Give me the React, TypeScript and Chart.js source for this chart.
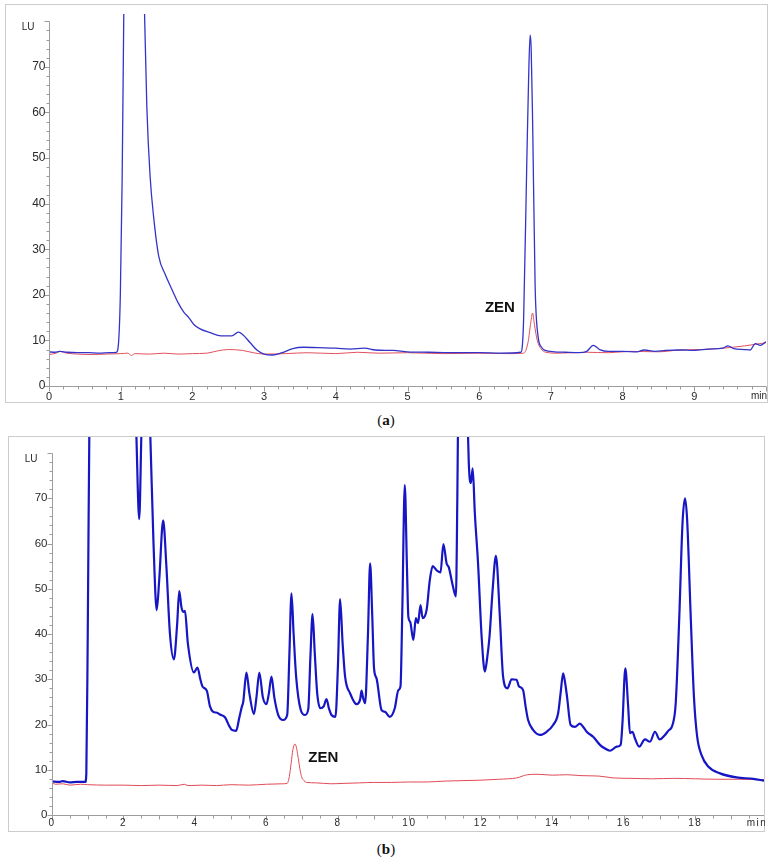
import React, { useEffect, useRef } from 'react';
import { Chart, registerables } from 'chart.js';
Chart.register(...registerables);

// ---------- Panel (a) ----------
const aBlueTime = [0, 0.08, 0.15, 0.25, 0.4, 0.55, 0.7, 0.85, 0.94, 0.97, 0.995, 1.02, 1.045, 1.08, 1.18, 1.27, 1.31, 1.335, 1.365, 1.41, 1.46, 1.53, 1.62, 1.72, 1.8, 1.88, 1.95, 2.02, 2.1, 2.25, 2.4, 2.55, 2.64, 2.7, 2.8, 2.9, 3.0, 3.12, 3.25, 3.4, 3.55, 3.75, 4.0, 4.2, 4.4, 4.55, 4.8, 5.0, 5.3, 5.6, 6.0, 6.3, 6.58, 6.6, 6.62, 6.665, 6.69, 6.71, 6.725, 6.745, 6.78, 6.82, 6.87, 6.92, 7.05, 7.2, 7.4, 7.5, 7.59, 7.68, 7.8, 8.0, 8.2, 8.3, 8.45, 8.6, 8.8, 9.0, 9.2, 9.4, 9.47, 9.55, 9.7, 9.78, 9.85, 9.92, 10.0];
const aBlueLU = [7.5, 7.4, 7.6, 7.4, 7.3, 7.3, 7.2, 7.3, 7.4, 9.5, 20, 45, 85, 130, 160, 140, 100, 80, 61, 46, 37, 28.5, 24.5, 21, 18.3, 16.2, 15, 13.5, 12.6, 11.7, 11, 11, 11.8, 11.3, 9.6, 7.9, 7.0, 6.8, 7.3, 8.2, 8.5, 8.4, 8.3, 8.1, 8.3, 7.9, 7.8, 7.5, 7.4, 7.3, 7.3, 7.2, 7.4, 8.5, 15, 50, 68, 77, 74, 58, 22, 11, 8.5, 7.8, 7.5, 7.4, 7.3, 7.6, 8.9, 8.0, 7.6, 7.6, 7.5, 7.9, 7.6, 7.8, 7.9, 7.8, 8.1, 8.3, 8.8, 8.2, 8.0, 7.9, 9.3, 8.9, 9.7];
const aRedTime = [0, 0.1, 0.15, 0.25, 0.4, 0.6, 0.8, 1.0, 1.1, 1.15, 1.2, 1.4, 1.6, 1.8, 2.0, 2.2, 2.35, 2.5, 2.7, 2.85, 3.0, 3.3, 3.6, 4.0, 4.3, 4.6, 5.0, 5.5, 6.0, 6.4, 6.62, 6.68, 6.72, 6.745, 6.77, 6.81, 6.86, 6.93, 7.1, 7.5, 7.8, 8.1, 8.5, 8.8, 9.1, 9.4, 9.7, 10.0];
const aRedLU = [6.9, 7.2, 7.6, 7.2, 7.0, 6.9, 7.0, 7.1, 7.2, 6.7, 7.1, 7.0, 7.2, 7.0, 7.1, 7.2, 7.7, 8.0, 7.8, 7.3, 7.0, 7.1, 7.3, 7.1, 7.4, 7.2, 7.3, 7.1, 7.2, 7.1, 7.2, 9.5, 14, 16, 13.5, 10, 8.2, 7.4, 7.2, 7.4, 7.3, 7.6, 7.5, 7.9, 8.0, 8.3, 8.8, 9.5];
const aXLabels = [0, 1, 2, 3, 4, 5, 6, 7, 8, 9];
const aYLabels = [0, 10, 20, 30, 40, 50, 60, 70];

// ---------- Panel (b) ----------
const bBlueTime = [0, 0.2, 0.3, 0.5, 0.7, 0.93, 0.96, 1.0, 1.05, 1.3, 2.0, 2.3, 2.36, 2.44, 2.5, 2.58, 2.68, 2.75, 2.84, 2.93, 3.0, 3.11, 3.2, 3.3, 3.41, 3.5, 3.56, 3.62, 3.67, 3.72, 3.8, 3.97, 4.07, 4.15, 4.21, 4.33, 4.42, 4.51, 4.62, 4.7, 4.84, 4.95, 5.03, 5.15, 5.24, 5.31, 5.35, 5.44, 5.52, 5.65, 5.72, 5.8, 5.9, 6.0, 6.07, 6.14, 6.22, 6.33, 6.47, 6.58, 6.64, 6.7, 6.76, 6.83, 6.96, 7.08, 7.17, 7.23, 7.29, 7.35, 7.42, 7.51, 7.6, 7.68, 7.75, 7.82, 7.93, 8.0, 8.06, 8.13, 8.2, 8.34, 8.52, 8.62, 8.66, 8.7, 8.76, 8.84, 8.9, 8.96, 9.01, 9.08, 9.22, 9.32, 9.45, 9.59, 9.69, 9.75, 9.8, 9.87, 9.93, 9.97, 10.02, 10.11, 10.18, 10.24, 10.31, 10.37, 10.48, 10.57, 10.65, 10.76, 10.87, 10.95, 11.04, 11.1, 11.21, 11.3, 11.34, 11.37, 11.5, 11.6, 11.66, 11.69, 11.72, 11.77, 11.83, 11.92, 12.02, 12.11, 12.18, 12.24, 12.33, 12.42, 12.53, 12.62, 12.74, 12.86, 13.0, 13.06, 13.18, 13.25, 13.32, 13.46, 13.65, 13.84, 14.02, 14.16, 14.23, 14.3, 14.36, 14.41, 14.51, 14.63, 14.77, 14.87, 14.96, 15.14, 15.33, 15.45, 15.61, 15.8, 15.91, 15.96, 16.04, 16.12, 16.17, 16.24, 16.31, 16.43, 16.59, 16.73, 16.87, 17.0, 17.15, 17.24, 17.36, 17.45, 17.55, 17.64, 17.71, 17.77, 17.87, 17.96, 18.05, 18.17, 18.36, 18.69, 19.15, 19.62, 19.92];
const bBlueLU = [7.4, 7.3, 7.5, 7.2, 7.3, 7.3, 9, 40, 90, 150, 150, 100, 84, 65.4, 84, 110, 100, 84, 60, 45.3, 52, 65.1, 55, 40, 34.4, 42, 49.5, 46, 44.9, 45.1, 38, 31.5, 32.6, 30, 28.4, 27.5, 24, 22.8, 22.6, 22.2, 21.6, 19.8, 18.8, 18.6, 21.5, 23.9, 25, 31.5, 27, 22.3, 26, 31.5, 26, 24.5, 27, 30.6, 26, 22.1, 21.0, 22.1, 35, 49.0, 40, 30.6, 23.2, 22.1, 23.4, 35, 44.4, 36, 26.9, 23.6, 24, 25.6, 23.5, 22.1, 21.7, 33, 47.7, 38, 30.6, 26.9, 24.5, 25.5, 27.5, 26, 24.7, 40, 55.6, 44, 32.4, 30.2, 23.2, 22.8, 21.7, 23.6, 27.6, 28.4, 45, 72.9, 55, 43.8, 42.7, 38.7, 43.5, 42.4, 46.4, 43.5, 45.3, 51.9, 55.0, 54.1, 53.6, 59.9, 55.6, 54.8, 50.8, 48.3, 70, 95, 130, 95, 78, 74.1, 73.4, 76.6, 66.7, 55.6, 39.4, 31.7, 35, 39.4, 50, 57.3, 43.8, 30.6, 28.0, 30.0, 29.9, 28.5, 27.6, 24, 21.0, 18.8, 17.7, 18.4, 19.9, 22.5, 27, 31.3, 29, 26.1, 19.9, 19.5, 20.2, 19.4, 18.4, 17.3, 15.5, 14.8, 14.2, 15.1, 15.5, 20.3, 32.4, 23.9, 18.1, 18.4, 16.9, 15.1, 16.7, 16.2, 18.4, 16.7, 17.7, 18.6, 19.9, 24.7, 43.8, 64.5, 70.0, 65.2, 43.8, 26.1, 17.3, 13.3, 10.7, 9.2, 8.3, 8.0, 7.6];
const bRedTime = [0, 0.1, 0.3, 0.5, 0.8, 1.0, 1.5, 2.0, 2.5, 3.0, 3.5, 3.7, 3.8, 4.2, 4.6, 5.0, 5.5, 6.0, 6.45, 6.58, 6.64, 6.69, 6.74, 6.8, 6.85, 6.89, 6.94, 6.98, 7.05, 7.12, 7.4, 7.8, 8.2, 8.6, 9.0, 9.5, 10.0, 10.5, 11.0, 11.5, 12.0, 12.5, 13.0, 13.3, 13.6, 14.0, 14.4, 14.8, 15.3, 15.7, 16.2, 16.8, 17.4, 18.0, 18.6, 19.2, 19.92];
const bRedLU = [7.1, 6.8, 6.9, 6.6, 6.8, 6.7, 6.6, 6.6, 6.5, 6.6, 6.5, 6.8, 6.5, 6.6, 6.5, 6.7, 6.6, 6.8, 6.9, 7.0, 8.5, 11.4, 14.5, 15.7, 14.5, 12.5, 10, 8.5, 7.6, 7.2, 7.1, 6.9, 7.0, 7.1, 7.2, 7.2, 7.3, 7.3, 7.5, 7.6, 7.7, 7.9, 8.2, 8.9, 9.0, 8.8, 8.9, 8.7, 8.6, 8.2, 8.1, 8.0, 8.1, 8.0, 7.9, 7.9, 7.8];
const bXLabels = [0, 2, 4, 6, 8, 10, 12, 14, 16, 18];
const bYLabels = [0, 10, 20, 30, 40, 50, 60, 70];

const SANS = '"Liberation Sans", Arial, sans-serif';

function pts(t: number[], v: number[]) {
  return t.map((x, i) => ({ x, y: v[i] }));
}

type Cfg = {
  left: number; top: number; width: number; height: number;
  padding: { left: number; right: number; top: number; bottom: number };
  xMax: number; yMax: number; yAxisTop: number;
  blueT: number[]; blueV: number[]; redT: number[]; redV: number[];
  blueColor: string; blueWidth: number; redColor: string; redWidth: number;
  xLabels: number[]; yLabels: number[];
  xMinorStep: number; xMajorStep: number; yMinorStep: number;
  yLabelGap: number; xLabelOffset: number; xFont: string; yFont: string; xSpacing: string;
  zen: { x: number; y: number };
};

function axesPlugin(cfg: Cfg) {
  return {
    id: 'chromAxes',
    afterDraw(chart: any) {
      const { ctx, chartArea: ca, scales } = chart;
      const xs = scales.x, ys = scales.y;
      ctx.save();
      ctx.strokeStyle = '#cccccc';
      ctx.lineWidth = 1;
      ctx.strokeRect(0.5, 0.5, chart.width - 1, chart.height - 1);

      const ax = Math.round(xs.getPixelForValue(0)) + 0.5;
      const ay = Math.round(ys.getPixelForValue(0)) + 0.5;
      const yTopPx = Math.round(ys.getPixelForValue(cfg.yAxisTop)) + 0.5;
      ctx.strokeStyle = '#9c9c9c';
      ctx.beginPath();
      ctx.moveTo(ax, yTopPx);
      ctx.lineTo(ax, ay);
      ctx.lineTo(ca.right, ay);
      const nY = Math.round(cfg.yAxisTop / cfg.yMinorStep);
      for (let i = 0; i <= nY; i++) {
        const v = i * cfg.yMinorStep;
        const py = Math.round(ys.getPixelForValue(v)) + 0.5;
        const major = Math.abs(v % 10) < 1e-6;
        ctx.moveTo(ax - (major ? 5 : 3), py);
        ctx.lineTo(ax, py);
      }
      const nX = Math.floor(cfg.xMax / cfg.xMinorStep + 1e-6);
      for (let i = 0; i <= nX; i++) {
        const t = i * cfg.xMinorStep;
        const px = Math.round(xs.getPixelForValue(t)) + 0.5;
        const r = t / cfg.xMajorStep;
        const major = Math.abs(r - Math.round(r)) < 1e-6;
        const mid = !major && Math.abs(t - Math.round(t)) < 1e-6;
        ctx.moveTo(px, ay);
        ctx.lineTo(px, ay + (major ? 5 : mid ? 4 : 3));
      }
      ctx.stroke();

      ctx.fillStyle = '#2a2a2a';
      ctx.font = cfg.yFont;
      ctx.textAlign = 'right';
      ctx.textBaseline = 'middle';
      for (const v of cfg.yLabels) {
        ctx.fillText(String(v), ax - cfg.yLabelGap, ys.getPixelForValue(v));
      }
      ctx.font = '10px ' + SANS;
      ctx.fillText('LU', ax - 15, ys.getPixelForValue(cfg.yAxisTop) + 6);

      ctx.font = cfg.xFont;
      (ctx as any).letterSpacing = cfg.xSpacing;
      ctx.textAlign = 'center';
      for (const t of cfg.xLabels) {
        ctx.fillText(String(t), xs.getPixelForValue(t), ay + cfg.xLabelOffset);
      }
      ctx.font = '10px ' + SANS;
      ctx.fillText('min', ca.right - 7, ay + cfg.xLabelOffset);
      (ctx as any).letterSpacing = '0px';

      ctx.fillStyle = '#111111';
      ctx.font = 'bold 15px ' + SANS;
      ctx.textAlign = 'left';
      ctx.textBaseline = 'alphabetic';
      ctx.fillText('ZEN', xs.getPixelForValue(cfg.zen.x), ys.getPixelForValue(cfg.zen.y));
      ctx.restore();
    },
  };
}

function Panel({ cfg }: { cfg: Cfg }) {
  const ref = useRef<HTMLCanvasElement>(null);
  useEffect(() => {
    if (!ref.current) return;
    const chart = new Chart(ref.current, {
      type: 'line',
      data: {
        datasets: [
          {
            data: pts(cfg.blueT, cfg.blueV),
            borderColor: cfg.blueColor,
            borderWidth: cfg.blueWidth,
            pointRadius: 0,
            cubicInterpolationMode: 'monotone',
            fill: false,
          },
          {
            data: pts(cfg.redT, cfg.redV),
            borderColor: cfg.redColor,
            borderWidth: cfg.redWidth,
            pointRadius: 0,
            cubicInterpolationMode: 'monotone',
            fill: false,
          },
        ],
      },
      options: {
        responsive: false,
        animation: false,
        devicePixelRatio: 1,
        layout: { padding: cfg.padding },
        plugins: { legend: { display: false }, tooltip: { enabled: false } },
        events: [],
        scales: {
          x: { type: 'linear', display: false, min: 0, max: cfg.xMax },
          y: { type: 'linear', display: false, min: 0, max: cfg.yMax },
        },
      },
      plugins: [axesPlugin(cfg)],
    } as any);
    return () => chart.destroy();
  }, []);
  return (
    <canvas
      ref={ref}
      width={cfg.width}
      height={cfg.height}
      style={{ position: 'absolute', left: cfg.left, top: cfg.top, width: cfg.width, height: cfg.height }}
    />
  );
}

const cfgA: Cfg = {
  left: 5, top: 4, width: 763, height: 399,
  padding: { left: 44, right: 2, top: 10, bottom: 17 },
  xMax: 10, yMax: 81.6, yAxisTop: 80,
  blueT: aBlueTime, blueV: aBlueLU, redT: aRedTime, redV: aRedLU,
  blueColor: '#3434c8', blueWidth: 1.3, redColor: '#e2505c', redWidth: 1,
  xLabels: aXLabels, yLabels: aYLabels,
  xMinorStep: 0.2, xMajorStep: 1, yMinorStep: 2,
  yLabelGap: 4, xLabelOffset: 10, xFont: '11px ' + SANS, yFont: '12px ' + SANS, xSpacing: '0px',
  zen: { x: 6.08, y: 16.2 },
};

const cfgB: Cfg = {
  left: 8, top: 436, width: 757, height: 396,
  padding: { left: 44, right: 1, top: 1, bottom: 17 },
  xMax: 19.92, yMax: 83.55, yAxisTop: 80,
  blueT: bBlueTime, blueV: bBlueLU, redT: bRedTime, redV: bRedLU,
  blueColor: '#1616c4', blueWidth: 2.2, redColor: '#e04a56', redWidth: 1,
  xLabels: bXLabels, yLabels: bYLabels,
  xMinorStep: 0.5, xMajorStep: 2, yMinorStep: 2,
  yLabelGap: 5, xLabelOffset: 8, xFont: '10px ' + SANS, yFont: '11.5px ' + SANS, xSpacing: '1.5px',
  zen: { x: 7.17, y: 11.8 },
};

export default function App() {
  const cap: React.CSSProperties = {
    position: 'absolute', left: 0, width: 772, textAlign: 'center',
    font: '15px "Liberation Serif", "DejaVu Serif", serif', lineHeight: '18px', color: '#111',
  };
  return (
    <div style={{ position: 'absolute', left: 0, top: 0, width: 772, height: 861, background: '#fff', overflow: 'hidden' }}>
      <Panel cfg={cfgA} />
      <div style={{ ...cap, top: 411 }}>(<b>a</b>)</div>
      <Panel cfg={cfgB} />
      <div style={{ ...cap, top: 840 }}>(<b>b</b>)</div>
    </div>
  );
}
